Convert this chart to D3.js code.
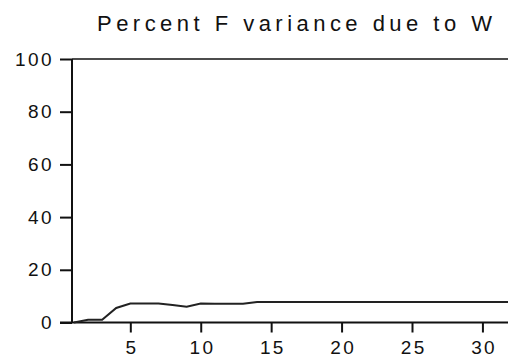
<!DOCTYPE html>
<html lang="en">
<head>
<meta charset="UTF-8"/>
<title>Percent F variance due to W</title>
<script src="https://d3js.org/d3.v7.min.js"></script>
<style>
	body { margin: 0; background: #fff; }
	text { font-family: "Liberation Sans", Arial, sans-serif; fill: #111; }
</style>
</head>
<body>
<script>

	var w = 508;
	var h = 358;

	// variance decomposition, periods 1..32
	var periods = d3.range(1, 33);
	var values = [0, 1, 1, 5.5, 7.2, 7.2, 7.2, 6.6, 6.0, 7.2, 7.1, 7.1, 7.1, 7.8,
	              7.8, 7.8, 7.8, 7.8, 7.8, 7.8, 7.8, 7.8, 7.8, 7.8, 7.8, 7.8,
	              7.8, 7.8, 7.8, 7.8, 7.8, 7.8];
	var xTicks = [5, 10, 15, 20, 25, 30];
	var yTicks = [0, 20, 40, 60, 80, 100];
	var title = "Percent F variance due to W";

	var xScale = d3.scaleLinear()
					.domain([0.86, 32.1])
					.range([72, 512]);

	var yScale = d3.scaleLinear()
					.domain([0, 100])
					.range([322.5, 59]);

	var svg = d3.select("body")
		.append("svg")
		.attr("width", w)
		.attr("height", h);

	//title
	svg.append("text")
		.attr("x", 97)
		.attr("y", 30.5)
		.attr("textLength", 395)
		.attr("lengthAdjust", "spacing")
		.style("font-size", "22px")
		.text(title);

	//x-axis
	var xAxis = d3.axisBottom(xScale)
					.tickValues(xTicks)
					.tickSize(10)
					.tickPadding(8)
					.tickFormat(d3.format("d"));

	var gx = svg.append("g")
		.attr("transform", "translate(0," + yScale(0) + ")")
		.call(xAxis);
	gx.select(".domain").remove();
	gx.append("line")
		.attr("x1", 60).attr("x2", w)
		.attr("stroke", "#111").attr("stroke-width", 2);
	gx.selectAll(".tick line").attr("stroke", "#111").attr("stroke-width", 2);
	gx.selectAll("text")
		.style("font-size", "19px")
		.style("letter-spacing", "2.4px")
		.attr("dx", 1.2)
		.attr("fill", "#111");

	//y-axis
	var yAxis = d3.axisLeft(yScale)
					.tickValues(yTicks)
					.tickSize(12)
					.tickPadding(6);

	var gy = svg.append("g")
		.attr("transform", "translate(72,0)")
		.call(yAxis);
	gy.select(".domain").remove();
	gy.append("line")
		.attr("y1", yScale(100)).attr("y2", yScale(0))
		.attr("stroke", "#111").attr("stroke-width", 2);
	gy.selectAll(".tick line").attr("stroke", "#111").attr("stroke-width", 2);
	gy.selectAll("text")
		.style("font-size", "19px")
		.style("letter-spacing", "2.4px")
		.attr("fill", "#111");

	//top frame
	svg.append("line")
		.attr("x1", 72).attr("x2", w)
		.attr("y1", yScale(100)).attr("y2", yScale(100))
		.attr("stroke", "#111").attr("stroke-width", 1.5);

	//series line
	var line = d3.line()
		.x(function(d, i){ return xScale(periods[i]); })
		.y(function(d){ return yScale(d); });

	svg.append("path")
		.datum(values)
		.attr("d", line)
		.attr("fill", "none")
		.attr("stroke", "#222")
		.attr("stroke-width", 2);

</script>
</body>
</html>
